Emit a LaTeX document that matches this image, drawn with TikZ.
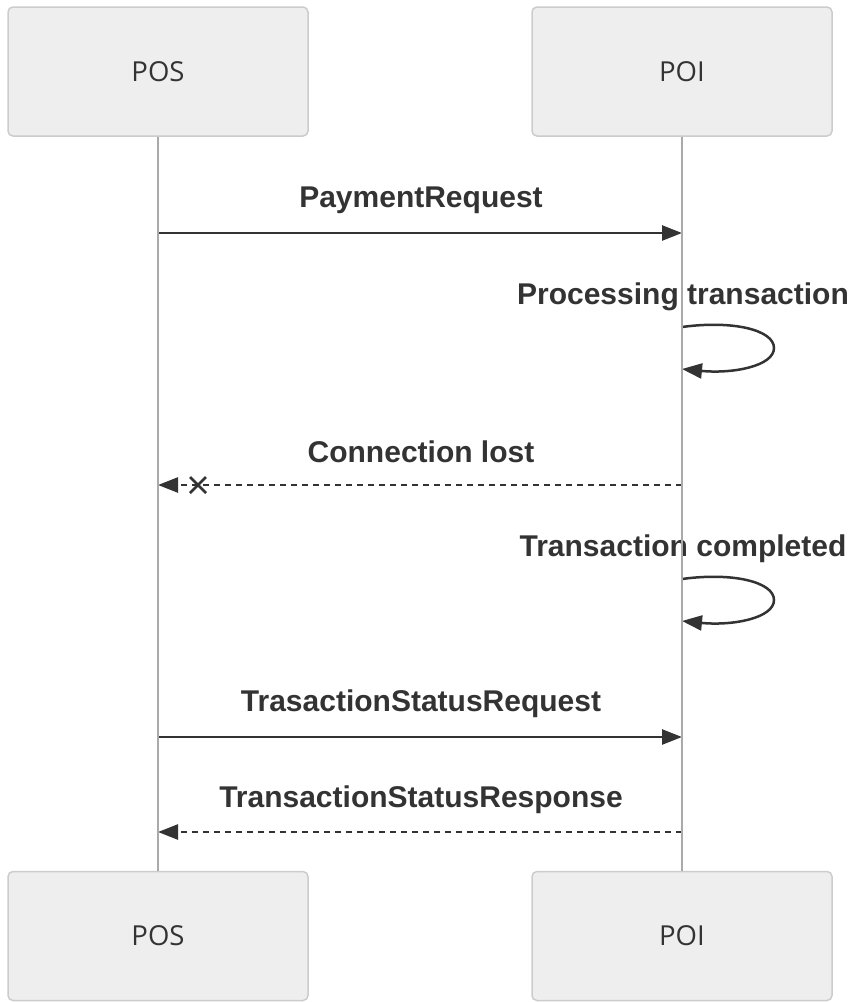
\documentclass[tikz,border=0pt]{standalone}
\usepackage{fontspec}
\setmainfont{Liberation Sans}
\newfontfamily\boxfont{Open Sans}
\usetikzlibrary{arrows.meta}
\definecolor{txt}{HTML}{333333}
\definecolor{boxfill}{HTML}{EEEEEE}
\definecolor{boxdraw}{HTML}{CCCCCC}
\definecolor{life}{HTML}{AAAAAA}
\tikzset{
  actor/.style={draw=boxdraw, fill=boxfill, line width=1.5pt, rounded corners=5pt, minimum width=300pt, minimum height=129pt, inner sep=0pt, text=txt, font=\boxfont\fontsize{27.5}{32}\selectfont},
  msglabel/.style={text=txt, font=\bfseries\fontsize{30}{34}\selectfont, inner sep=0pt},
  lifeline/.style={draw=life, line width=1.8pt},
  msg/.style={draw=txt, line width=2.5pt, -{Triangle[length=20pt,width=15pt]}},
  dmsg/.style={msg, dash pattern=on 6pt off 5pt},
}
\begin{document}
\begin{tikzpicture}[x=1pt,y=-1pt]
\useasboundingbox (0,0) rectangle (848,1002);
\node[actor] (posT) at (158,71.5) {POS};
\node[actor] (poiT) at (682,71.5) {POI};
\node[actor] (posB) at (158,936) {POS};
\node[actor] (poiB) at (682,936) {POI};
% 1
\node[msglabel] (l1) at (421,200) {PaymentRequest};
\coordinate (a1) at (posT.south |- 0,233);
\coordinate (b1) at (poiT.south |- 0,233);
\draw[msg] (a1) -- (b1);
% 2
\node[msglabel] (l2) at (683,297) {Processing transaction};
\coordinate (s2) at (poiT.south |- 0,327);
\coordinate (e2) at (poiT.south |- 0,369);
\draw[msg] (s2) .. controls (733,320) and (774,330) .. (774,348) .. controls (774,366) and (733,374) .. (e2);
% 3
\node[msglabel] (l3) at (421,452) {Connection lost};
\coordinate (a3) at (poiT.south |- 0,485);
\coordinate (b3) at (posT.south |- 0,485);
\draw[dmsg] (a3) -- (b3);
\coordinate (x3) at (198,485);
\draw[draw=txt, line width=2.5pt] ([shift={(-8,-8)}]x3) -- ([shift={(8,8)}]x3) ([shift={(-8,8)}]x3) -- ([shift={(8,-8)}]x3);
% 4
\node[msglabel] (l4) at (683,549) {Transaction completed};
\coordinate (s4) at (poiT.south |- 0,579);
\coordinate (e4) at (poiT.south |- 0,621);
\draw[msg] (s4) .. controls (733,572) and (774,582) .. (774,600) .. controls (774,618) and (733,626) .. (e4);
% 5
\node[msglabel] (l5) at (421,704) {TrasactionStatusRequest};
\coordinate (a5) at (posT.south |- 0,737);
\coordinate (b5) at (poiT.south |- 0,737);
\draw[msg] (a5) -- (b5);
% 6
\node[msglabel] (l6) at (421,800) {TransactionStatusResponse};
\coordinate (a6) at (poiT.south |- 0,832);
\coordinate (b6) at (posT.south |- 0,832);
\draw[dmsg] (a6) -- (b6);
% lifelines on top of labels
\draw[lifeline] (posT.south) -- (posB.north);
\draw[lifeline] (poiT.south) -- (poiB.north);
\end{tikzpicture}
\end{document}
